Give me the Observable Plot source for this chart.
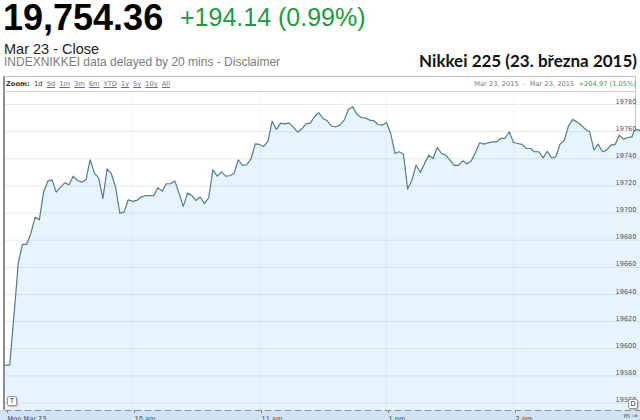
<!DOCTYPE html>
<html><head><meta charset="utf-8">
<script src="https://cdn.jsdelivr.net/npm/d3@7"></script>
<script src="https://cdn.jsdelivr.net/npm/@observablehq/plot@0.6"></script>
<style>
html,body{margin:0;padding:0;background:#fff;}
body{width:640px;height:420px;position:relative;overflow:hidden;font-family:"Liberation Sans",Arial,sans-serif;}
.abs{position:absolute;white-space:nowrap;}
.zb{font-family:"DejaVu Sans",Verdana,sans-serif;font-size:6.7px;line-height:8px;}
.zb a{color:#6a6a8a;text-decoration:underline;margin-right:4px;}
.icon{position:absolute;width:8px;height:8px;border:1px solid #999;border-radius:2px;background:#fff;font-family:"DejaVu Sans",sans-serif;font-size:7px;line-height:8px;text-align:center;color:#333;box-shadow:1px 1px 1px #bbb;}
</style></head><body>
<div class="abs" style="left:3px;top:0px;font-size:36px;line-height:35px;font-weight:bold;color:#000">19,754.36</div>
<div class="abs" style="left:180px;top:5px;font-size:25px;line-height:25px;color:#22993f">+194.14 (0.99%)</div>
<div class="abs" style="left:4px;top:42px;font-size:14.5px;line-height:14px;color:#222">Mar 23 - Close</div>
<div class="abs" style="left:4px;top:56px;font-size:12px;line-height:12px;color:#7a7a7a">INDEXNIKKEI data delayed by 20 mins - Disclaimer</div>
<div class="abs" style="right:3px;top:52px;font-family:Lato,'Open Sans',sans-serif;font-weight:bold;font-size:17px;line-height:17px;color:#111">Nikkei 225 (23. března 2015)</div>

<div class="abs" style="left:3px;top:76px;width:633px;height:334px;border:1px solid #c4c4c4;border-left:2px solid #8c8c8c;box-sizing:border-box;"></div>
<div class="abs" style="left:4px;top:91px;width:632px;height:1px;background:#d4d4d4;"></div>
<div class="abs" style="left:0;top:410px;width:640px;height:10px;background:#cfe3f3;"></div>
<div class="abs zb" style="left:6px;top:80px;color:#333"><b>Zoom:</b>&nbsp; 1d&nbsp; <a>5d</a><a>1m</a><a>3m</a><a>6m</a><a>YTD</a><a>1y</a><a>5y</a><a>10y</a><a>All</a></div>
<div class="abs zb" style="right:4px;top:80px;color:#777">Mar 23, 2015 &nbsp;-&nbsp; Mar 23, 2015 &nbsp;<span style="color:#3a9a4a">+204.97 (1.05%)</span></div>

<div id="chart" class="abs" style="left:0;top:91px;"></div>
<div class="icon" style="left:7px;top:396px;">T</div>
<div class="icon" style="left:628px;top:399px;">D</div>

<script>
const minutes = [0,2,5,6,8,10,12,14,16,18,20,22,24,26,28,30,32,34,36,38,40,42,44,46,48,50,52,54,56,58,60,62,64,66,70,72,74,76,78,80,81,84,86,88,90,92,94,96,98,100,102,104,106,108,110,112,114,116,118,120,122,124,126,128,130,132,134,136,138,140,142,144,146,148,150,152,154,156,158,160,162,164,166,168,170,172,174,176,178,180,182,184,186,188,190,192,194,196,198,200,202,204,206,208,210,212,214,216,218,220,222,224,226,228,230,232,234,236,238,240,242,244,246,248,250,252,254,256,258,260,262,264,266,268,270,272,274,276,278,280,282,284,286,288,290,292,294,296,297,299,300];
const values = [19588,19588,19643,19663,19677,19677,19685,19697,19695,19715.5,19723.6,19724.5,19715.5,19719.1,19722.3,19720.9,19727.2,19724,19722.8,19724.5,19739.3,19729.4,19726,19710.6,19732.6,19729,19719.1,19700,19700.7,19709.8,19708.6,19709.3,19711.8,19712.8,19712.8,19718.7,19716.2,19721.6,19721.6,19723.6,19719.1,19704.9,19714.7,19713,19709.3,19711.8,19706.9,19711.3,19731.9,19727.2,19730.4,19727.2,19727.5,19729.4,19739.3,19735.1,19735.6,19740,19751,19750.6,19749.1,19753,19767.7,19761.6,19766.3,19765.8,19766.5,19763.3,19759.6,19762.1,19765.8,19766.3,19771,19774,19769.7,19768,19764,19763.6,19764.8,19768.5,19776.3,19778.3,19772.9,19770.4,19770.2,19768.5,19768,19765.3,19764.8,19766.7,19758.7,19743.9,19745.2,19743.4,19717.7,19724.3,19735.3,19729.9,19736.6,19742.7,19740.2,19748.3,19743.9,19742.7,19739,19735.1,19735.1,19738.5,19736.1,19738.3,19744.4,19751.8,19750.8,19751.8,19752.5,19752.5,19755,19755,19759.9,19752,19751.3,19750.6,19747.6,19747.6,19745.2,19745.2,19740.7,19745.6,19740.7,19741.5,19750.8,19753.7,19764.3,19769,19767.2,19764.8,19761.6,19759.9,19746.4,19750.8,19745.2,19746.4,19750.1,19750.6,19757.4,19754.5,19755.7,19756.2,19760.6,19761.6,19760];
const yTicks = [19560,19580,19600,19620,19640,19660,19680,19700,19720,19740,19760,19780];
const xTicks = [0,60,120,180,240];
const xLabels = ["Mon Mar 23","10 am","11 am","1 pm","2 pm"];
const yBottom = 19554.5, yTop = 19789.6;

const data = minutes.map((m,i)=>({m, v: values[i]}));
const chart = Plot.plot({
  width: 640, height: 329,
  marginTop: 0, marginBottom: 10, marginLeft: 5, marginRight: 0,
  x: {domain: [0,300], axis: null},
  y: {domain: [yBottom, yTop], axis: null},
  style: {background: "transparent", fontFamily: "'DejaVu Sans', Verdana, sans-serif", fontSize: "6.6px", overflow: "hidden"},
  marks: [
    Plot.areaY(data, {x: "m", y1: yBottom, y2: "v", fill: "#e7f4fd"}),
    Plot.ruleY(yTicks, {stroke: "#000", strokeOpacity: 0.085}),
    Plot.ruleX(xTicks.slice(1), {stroke: "#000", strokeOpacity: 0.035}),
    Plot.lineY(data, {x: "m", y: "v", stroke: "#4e7f8e", strokeWidth: 1.2}),
    Plot.text(yTicks, {x: 300, y: d => d, text: d => String(d), textAnchor: "end", dx: -4, dy: -3, fill: "#555"}),
    Plot.ruleY([yBottom], {stroke: "#8a8a8a", strokeDasharray: "6,4"}),
    Plot.axisX(xTicks, {tickSize: 3, tickPadding: 3, stroke: "#888", fill: "#444",
      tickFormat: d => xLabels[xTicks.indexOf(d)], textAnchor: "start", dx: 2})
  ]
});
document.getElementById("chart").appendChild(chart);
</script>
</body></html>
